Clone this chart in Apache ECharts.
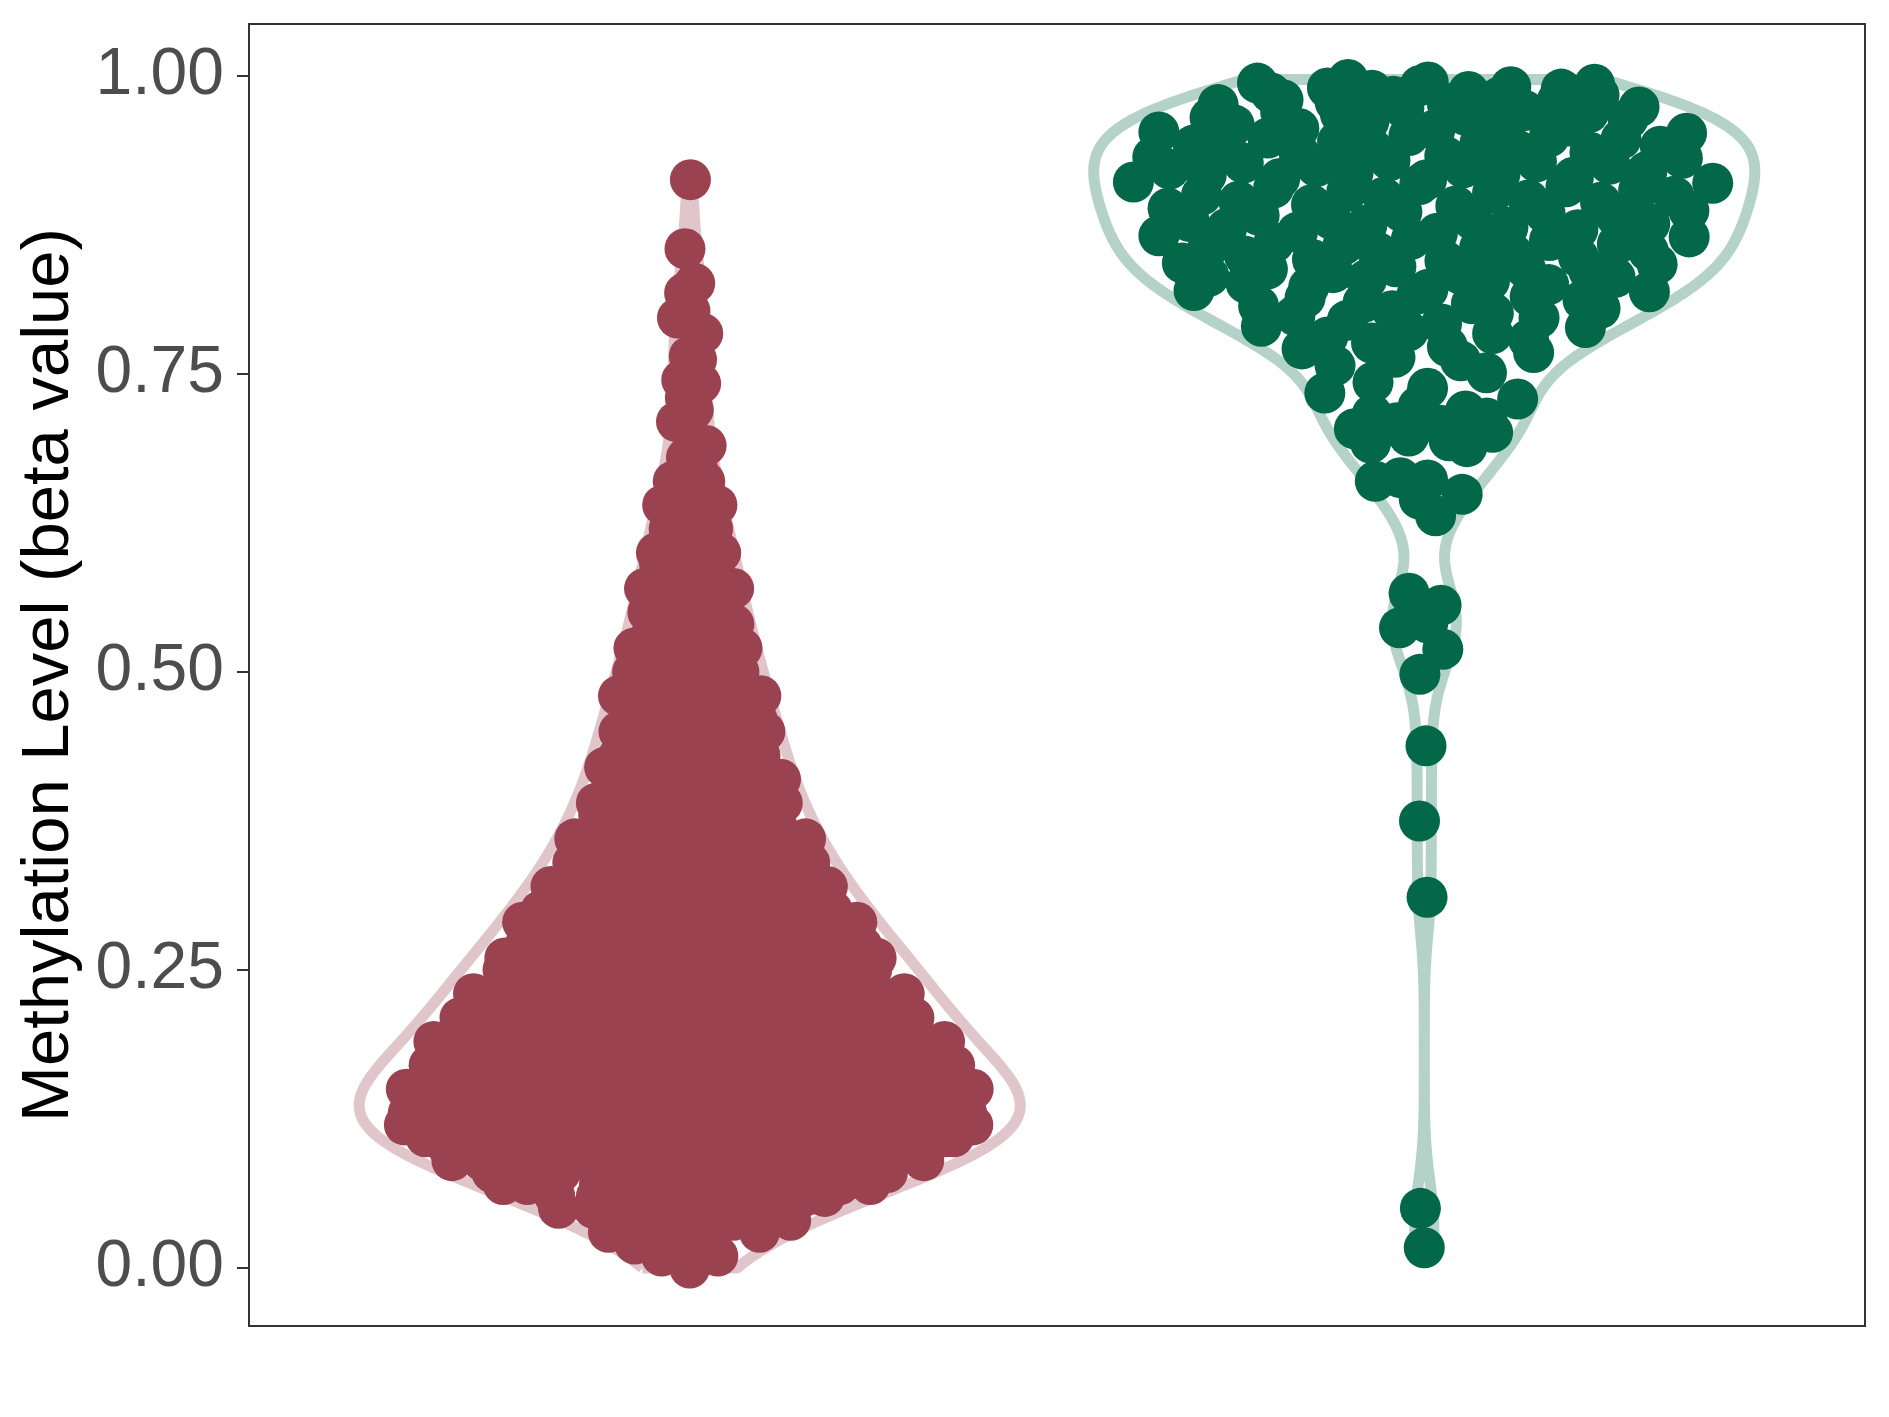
<!DOCTYPE html>
<html><head><meta charset="utf-8">
<script src="https://cdn.jsdelivr.net/npm/echarts@6/dist/echarts.min.js"></script>
<style>html,body{margin:0;padding:0;background:#fff}#c{width:1889px;height:1417px}</style>
</head><body><div id="c"></div>
<script>
// ---------------- data ----------------
const groupPositions = [1, 2];
const yTicks = [0, 0.25, 0.5, 0.75, 1.0];
const yTitle = 'Methylation Level (beta value)';

// red group: estimated value histogram (0.01 levels) + individually readable upper tail
const redLevels = [0.00,0.01,0.02,0.03,0.04,0.05,0.06,0.07,0.08,0.09,
  0.10,0.11,0.12,0.13,0.14,0.15,0.16,0.17,0.18,0.19,
  0.20,0.21,0.22,0.23,0.24,0.25,0.26,0.27,0.28,0.29,
  0.30,0.31,0.32,0.33,0.34,0.35,0.36,0.37,0.38,0.39,
  0.40,0.41,0.42,0.43,0.44,0.45,0.46,0.47,0.48,0.49,
  0.50,0.51,0.52,0.53,0.54,0.55,0.56,0.57,0.58,0.59,
  0.60,0.61,0.62,0.63,0.64,0.65,0.66,0.67,0.68,0.69];
const redCounts = [1,2,3,4,5,7,8,11,14,17,
  20,23,24,22,20,18,17,16,16,15,
  15,14,14,14,13,13,12,12,10,10,
  10,9,9,8,8,7,7,7,6,6,
  6,6,5,5,5,5,5,5,4,4,
  4,4,4,3,3,3,3,3,3,3,
  2,2,2,2,2,2,2,1,1,1];
const redTail = [0.71,0.72,0.730,0.742,0.745,0.762,0.765,0.784,0.797,0.803,0.818,0.826,0.855,0.913];

// green group values
const greenValues = [
  0.017,0.050,0.311,0.375,0.438,0.498,0.519,0.537,0.541,0.548,0.556,0.566,0.631,0.645,0.649,0.660,0.661,0.663,
  0.689,0.692,0.694,0.698,0.701,0.704,0.707,0.709,0.713,0.716,0.719,0.723,0.729,0.734,0.738,
  0.743,0.751,0.757,0.761,0.764,0.768,0.771,0.773,0.776,0.779,
  0.781,0.784,0.786,0.789,0.790,0.792,0.795,0.797,0.799,
  0.801,0.803,0.805,0.807,0.809,0.810,0.812,0.814,0.815,0.817,0.819,
  0.820,0.821,0.823,0.825,0.826,0.828,0.829,0.831,0.832,0.834,0.835,0.837,0.838,0.839,
  0.840,0.842,0.843,0.845,0.846,0.848,0.849,0.851,0.852,0.853,0.855,0.856,0.858,0.859,
  0.860,0.862,0.863,0.865,0.866,0.868,0.869,0.871,0.872,0.873,0.875,0.876,0.878,0.879,
  0.880,0.882,0.883,0.885,0.886,0.887,0.889,0.891,0.892,0.894,0.895,0.896,0.898,0.899,
  0.900,0.902,0.903,0.904,0.906,0.907,0.909,0.910,0.911,0.913,0.914,0.915,0.917,0.918,0.919,
  0.920,0.922,0.923,0.924,0.926,0.927,0.928,0.929,0.931,0.932,0.933,0.935,0.936,0.937,0.938,0.939,
  0.941,0.942,0.944,0.945,0.947,0.948,0.949,0.950,0.952,0.953,0.955,0.956,0.958,0.959,
  0.961,0.962,0.964,0.965,0.967,0.968,0.969,0.970,0.971,0.973,0.974,0.976,0.977,0.978,0.979,
  0.980,0.982,0.983,0.984,0.986,0.987,0.988,0.989,0.990,0.991,0.992,0.993,0.994,0.995,0.997];

// ---------------- stats (ggplot violin + vipor quasirandom) ----------------
function quantile(sorted, p){ const h=(sorted.length-1)*p, lo=Math.floor(h), hi=Math.ceil(h); return sorted[lo]+(sorted[hi]-sorted[lo])*(h-lo); }
function bwNrd0(x){
  const n=x.length, s=[...x].sort((a,b)=>a-b);
  const mean=x.reduce((a,b)=>a+b,0)/n;
  const sd=Math.sqrt(x.reduce((a,b)=>a+(b-mean)*(b-mean),0)/(n-1));
  const iqr=quantile(s,0.75)-quantile(s,0.25);
  let lo=Math.min(sd, iqr/1.34); if(!(lo>0)) lo=sd||1;
  return 0.9*lo*Math.pow(n,-0.2);
}
function kde(x,bw){ const n=x.length, c=1/(n*bw*Math.sqrt(2*Math.PI));
  return y=>{ let s=0; for(const v of x){ const u=(y-v)/bw; s+=Math.exp(-0.5*u*u);} return s*c; }; }
function vdc(i){ let f=0.5, r=0; while(i>0){ if(i&1) r+=f; f/=2; i>>=1; } return r; }

function violinPath(vals, center){
  const bw=bwNrd0(vals), d=kde(vals,bw);
  const mn=Math.min(...vals), mx=Math.max(...vals), n=512;
  const ys=[], ds=[];
  for(let i=0;i<n;i++){ const y=mn+(mx-mn)*i/(n-1); ys.push(y); ds.push(d(y)); }
  const m=Math.max(...ds);
  const left=ys.map((y,i)=>[center-ds[i]/m*0.45,y]);
  const right=ys.map((y,i)=>[center+ds[i]/m*0.45,y]).reverse();
  const path=left.concat(right); path.push(left[0]);
  return path;
}
function quasirandom(vals, center){
  const bw=bwNrd0(vals), d=kde(vals,bw);
  const mn=Math.min(...vals)-3*bw, mx=Math.max(...vals)+3*bw;
  let m=0; for(let i=0;i<512;i++){ m=Math.max(m,d(mn+(mx-mn)*i/511)); }
  const idx=vals.map((v,i)=>i).sort((a,b)=>vals[a]-vals[b]||a-b);
  const rank=new Array(vals.length); idx.forEach((k,r)=>rank[k]=r+1);
  return vals.map((v,i)=>[center+(vdc(rank[i])-0.5)*2*d(v)/m*0.4, v]);
}

const redValues=[]; redLevels.forEach((lv,i)=>{ for(let k=0;k<redCounts[i];k++) redValues.push(lv); });
redTail.forEach(v=>redValues.push(v));

const chart=echarts.init(document.getElementById('c'),null,{renderer:'canvas'});
chart.setOption({
  animation:false,
  backgroundColor:'#ffffff',
  grid:{left:249,top:24,right:24,bottom:91,show:true,borderColor:'#333333',borderWidth:2,backgroundColor:'transparent'},
  xAxis:{type:'value',min:0.4,max:2.6,axisLine:{show:false},axisTick:{show:false},axisLabel:{show:false},splitLine:{show:false}},
  yAxis:{type:'value',min:-0.0487,max:1.0436,
    axisLine:{show:false},splitLine:{show:false},
    axisTick:{show:true,length:12,customValues:yTicks,lineStyle:{color:'#333333',width:2}},
    axisLabel:{customValues:yTicks,formatter:v=>v.toFixed(2),fontSize:66,color:'#4D4D4D',margin:25,fontFamily:'Liberation Sans, Arial, sans-serif'}},
  graphic:[{type:'text',x:50,y:675,rotation:Math.PI/2,
    style:{text:yTitle,fontSize:67,fill:'#000000',fontFamily:'Liberation Sans, Arial, sans-serif',textAlign:'center',textVerticalAlign:'middle'}}],
  series:[
    {type:'line',data:violinPath(redValues,groupPositions[0]),showSymbol:false,symbol:'none',silent:true,z:1,
      lineStyle:{color:'#E0C6CB',width:11,join:'round'}},
    {type:'line',data:violinPath(greenValues,groupPositions[1]),showSymbol:false,symbol:'none',silent:true,z:1,
      lineStyle:{color:'#B4D2C8',width:11,join:'round'}},
    {type:'scatter',data:quasirandom(redValues,groupPositions[0]),symbolSize:41,z:2,itemStyle:{color:'#9B4251',opacity:1}},
    {type:'scatter',data:quasirandom(greenValues,groupPositions[1]),symbolSize:41,z:2,itemStyle:{color:'#036848',opacity:1}}
  ]
});
</script></body></html>
